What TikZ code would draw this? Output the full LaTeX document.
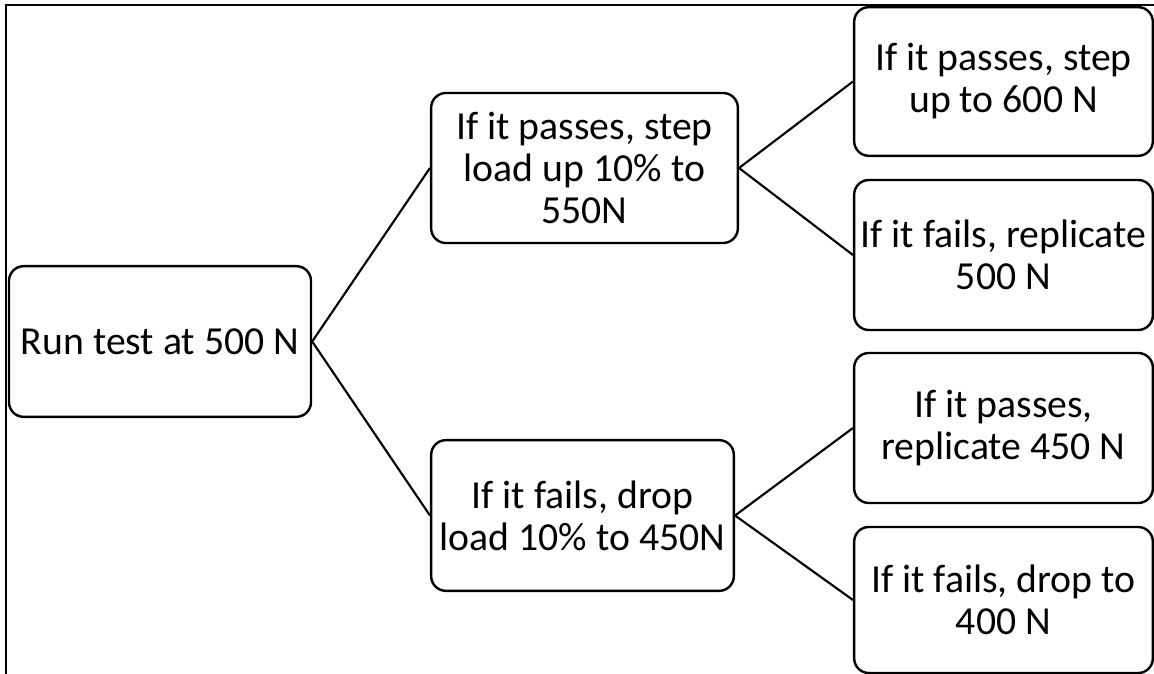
\documentclass[tikz,border=0pt]{standalone}
\usepackage{fontspec}
\setmainfont{Carlito}
\usepackage{tikz}
\usetikzlibrary{positioning}
\tikzset{blk/.style={draw,line width=1.8pt,rounded corners=11pt,align=center,inner sep=0pt,
	font=\fontsize{29.8}{31.5}\selectfont}}

\begin{document}
\begin{tikzpicture}[x=0.75pt,y=-0.75pt,line width=1.6pt]
	\useasboundingbox (0,0) rectangle (1154,674);
	\draw (6,676) -- (6,5) -- (1156,5);
	\node[blk,minimum width=226.5pt,minimum height=113pt] (run) at (160,341.5) {Run test at 500 N};
	\node[blk,minimum width=230pt,minimum height=112.5pt] (pass) at (584.5,168) {If it passes, step\\load up 10\% to\\550N};
	\node[blk,minimum width=227pt,minimum height=113pt] (fail) at (582.5,515.5) {If it fails, drop\\load 10\% to 450N};
	\node[blk,minimum width=224pt,minimum height=111.5pt] (pp) at (1003.5,81.5) {If it passes, step\\up to 600 N};
	\node[blk,minimum width=224pt,minimum height=112.5pt] (pf) at (1003.5,255) {If it fails, replicate\\500 N};
	\node[blk,minimum width=224pt,minimum height=112.5pt] (fp) at (1003.5,428) {If it passes,\\replicate 450 N};
	\node[blk,minimum width=224pt,minimum height=109.5pt] (ff) at (1003.5,600) {If it fails, drop to\\400 N};
	\draw (run.east) -- (pass.west);
	\draw (run.east) -- (fail.west);
	\draw (pass.east) -- (pp.west);
	\draw (pass.east) -- (pf.west);
	\draw (fail.east) -- (fp.west);
	\draw (fail.east) -- (ff.west);
\end{tikzpicture}
\end{document}
